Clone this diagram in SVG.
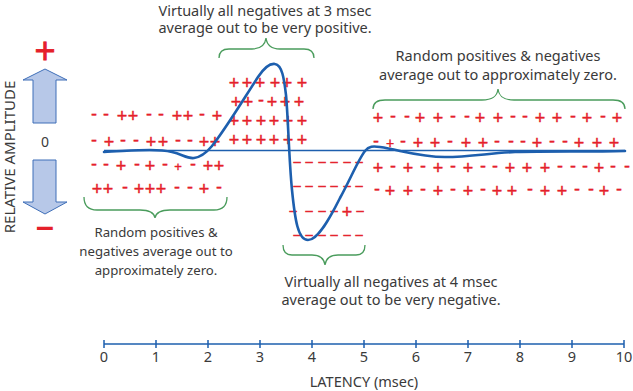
<svg xmlns="http://www.w3.org/2000/svg" width="633" height="391" viewBox="0 0 633 391">
<style>
.lbl{font-family:"Noto Sans","Open Sans",sans-serif;font-size:14.5px;fill:#3a3a3a;text-anchor:middle}
.s{font-family:"Liberation Sans",sans-serif;font-size:18px;fill:#e5202a;stroke:#e5202a;stroke-width:0.4;text-anchor:middle}
.d{font-size:13px;stroke-width:0.5}
.brace{fill:none;stroke:#4a9c5c;stroke-width:1.3}
.axis{stroke:#1d5fae;stroke-width:1.5;fill:none}
.arrow{fill:#b7c8e8;stroke:#3f6fb8;stroke-width:1}
</style>

<g id="y-axis">
  <text x="45" y="63" font-family="Liberation Sans, sans-serif" font-size="36" fill="#e5202a" stroke="#e5202a" stroke-width="0.8" text-anchor="middle">+</text>
  <polygon class="arrow" points="45,69 67,80 56,80 56,123 33,123 33,80 23,80"/>
  <text x="45" y="147" class="lbl" style="font-size:14px">0</text>
  <polygon class="arrow" points="33,160 56,160 56,202 67,202 45,214 23,202 33,202"/>
  <text x="45" y="237" font-family="Liberation Sans, sans-serif" font-weight="bold" font-size="32" fill="#e5202a" text-anchor="middle">–</text>
  <text class="lbl" style="font-size:15px" transform="translate(15,157) rotate(-90)">RELATIVE AMPLITUDE</text>
</g>

<g id="x-axis">
  <line class="axis" x1="104" y1="344" x2="624" y2="344"/>
  <path class="axis" d="M104,340V348M156,340V348M208,340V348M260,340V348M312,340V348M364,340V348M416,340V348M468,340V348M520,340V348M572,340V348M624,340V348"/>
  <text class="lbl" y="362"><tspan x="104">0</tspan><tspan x="156">1</tspan><tspan x="208">2</tspan><tspan x="260">3</tspan><tspan x="312">4</tspan><tspan x="364">5</tspan><tspan x="416">6</tspan><tspan x="468">7</tspan><tspan x="520">8</tspan><tspan x="572">9</tspan><tspan x="624">10</tspan></text>
  <text class="lbl" x="364" y="387">LATENCY (msec)</text>
</g>

<g id="left-signs">
  <text class="s"><tspan x="94 106 122 133 149 161 177 188 202 217" y="120.4 120.4 122.3 122.3 120.4 120.4 122.3 122.3 120.4 122.3">--++--++-+</tspan><tspan x="94 109 123 136 151 163 178 190 204 215" y="146.4 148.3 146.4 146.4 148.3 148.3 146.4 146.4 148.3 148.3">-+--++--++</tspan><tspan x="94 106 121 137 150 165" y="170.4 170.4 172.3 170.4 172.3 170.4">--+-+-</tspan><tspan x="178" y="171" font-size="13">+</tspan><tspan x="193 208 219" y="170.4 172.3 172.3">-++</tspan><tspan x="97 108 125 139 150 161 177 190 204 219" y="195.3 195.3 193.4 195.3 195.3 195.3 193.4 193.4 195.3 193.4">++-+++--+-</tspan></text>
</g>

<g id="middle-signs">
  <text class="s"><tspan x="234 247 260 275 287 302" y="89.3">++++++</tspan><tspan x="236 248 261 272 285 299" y="108.3 108.3 106.4 108.3 108.3 108.3">++-+++</tspan><tspan x="234 247 261 274 288 302" y="127.3">++++++</tspan><tspan x="234 247 261 274 288 302" y="146.3">++++++</tspan><tspan class="d" x="297 309 322 334 347 359" y="166.3">––––––</tspan><tspan class="d" x="297 309 322 334 347 359" y="190.3">––––––</tspan><tspan class="d" x="293 309 322 334" y="215.3">––––</tspan><tspan x="347" y="218.3">+</tspan><tspan class="d" x="360" y="215.3">–</tspan><tspan class="d" x="297 309 322 334 347 359" y="239.3">––––––</tspan></text>
</g>

<g id="right-signs">
  <text class="s"><tspan x="378 393 407 420 438 453 467 480 498 513 525 540 557 573 587 603 617" y="124.3 122.4 122.4 124.3 124.3 122.4 122.4 124.3 124.3 122.4 122.4 124.3 124.3 122.4 124.3 122.4 124.3">+--++--++--++-+-+</tspan><tspan x="376" y="147.4">-</tspan><tspan x="390" y="148" font-size="14">+</tspan><tspan x="403 418 435 450 466 483 497 511 523 537 552 565 579 597 614" y="147.4 149.3 149.3 147.4 149.3 149.3 147.4 147.4 147.4 149.3 147.4 147.4 149.3 149.3 149.3">-++-++---+--+++</tspan><tspan x="378 393 408 423 438 453 468 483 495 510 527 545 560 573 585 599 613 627" y="174.3 172.4 174.3 172.4 174.3 172.4 174.3 172.4 172.4 174.3 174.3 174.3 172.4 172.4 172.4 174.3 172.4 172.4">+-+-+-+--+++---+--</tspan><tspan x="377 390 408 423 438 453 468 483 497 512 530 545 562 577 591 604 619" y="195.4 197.3 197.3 195.4 197.3 195.4 197.3 195.4 197.3 197.3 195.4 197.3 197.3 195.4 195.4 197.3 195.4">-++-+-+-++-++--+-</tspan></text>
</g>

<g id="connectors">
  <line x1="104" y1="150.5" x2="625" y2="150.5" stroke="#1d5fae" stroke-width="1.4"/>
  <path d="M104,152 C130,151 155,148 172,152 C182,154 187,159 194,158 C202,157 207,152 212,146 C225,130 243,100 258,77 C264,68 269,63 275,64 C282,65 284,78 286,95 C288,115 289,160 292,190 C295,220 298,240 308,240 C318,240 330,218 340,198 C350,180 358,160 365,151 C369,146 373,146 380,147 C400,150 420,157 445,157 C470,157 490,153 515,152 C550,151 590,152 625,151" fill="none" stroke="#1d5fae" stroke-width="2.6" stroke-linecap="round"/>
</g>

<g id="brace-left">
  <path class="brace" d="M84,197 Q84,210 97,210 L140,210 C149,210 154,212 155,218 C156,212 161,210 170,210 L214,210 Q227,210 227,197"/>
  <text class="lbl" style="font-size:13.2px"><tspan x="156" y="237">Random positives &amp;</tspan><tspan x="156" y="256">negatives average out to</tspan><tspan x="156" y="275">approximately zero.</tspan></text>
</g>

<g id="brace-top">
  <path class="brace" d="M219,58 Q219,49 229,49 L252,49 C260,49 265,46 266,38 C267,46 272,49 280,49 L304,49 Q314,49 314,58"/>
  <text class="lbl"><tspan x="265" y="15.5">Virtually all negatives at 3 msec</tspan><tspan x="265" y="33">average out to be very positive.</tspan></text>
</g>

<g id="brace-right">
  <path class="brace" d="M373,109 Q373,100 385,100 L482,100 C492,100 497,97 498,89 C499,97 504,100 514,100 L613,100 Q625,100 625,109"/>
  <text class="lbl"><tspan x="498" y="61">Random positives &amp; negatives</tspan><tspan x="498" y="80">average out to approximately zero.</tspan></text>
</g>

<g id="brace-bottom">
  <path class="brace" d="M283,245 Q283,255 292,255 L312,255 C320,255 324,258 325,265 C326,258 330,255 338,255 L356,255 Q365,255 365,245"/>
  <text class="lbl"><tspan x="391" y="287">Virtually all negatives at 4 msec</tspan><tspan x="391" y="305">average out to be very negative.</tspan></text>
</g>
</svg>
